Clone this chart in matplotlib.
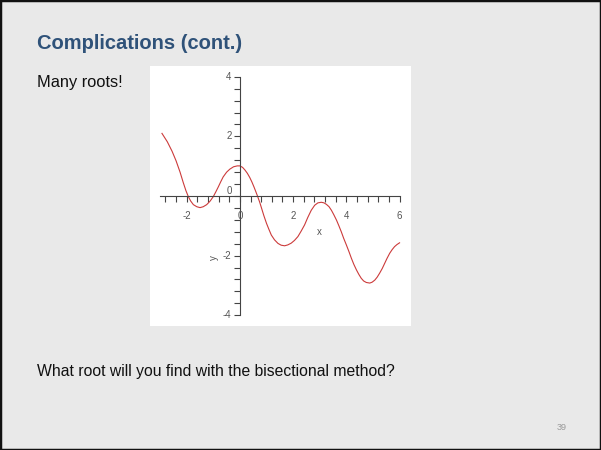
import matplotlib.pyplot as plt
import numpy as np
from matplotlib.patches import Rectangle

plt.rcParams['font.family'] = ['Liberation Sans', 'DejaVu Sans']

# points
x_vals = [-2.93, -2.73, -2.55, -2.40, -2.25, -2.13, -2.03, -1.94, -1.85, -1.75,
          -1.62, -1.50, -1.38, -1.25, -1.12, -1.00, -0.90, -0.81, -0.72, -0.63,
          -0.50, -0.38, -0.24, -0.10, 0.00, 0.10, 0.19, 0.28, 0.37, 0.45,
          0.53, 0.60, 0.66, 0.74, 0.81, 0.90, 1.00, 1.09, 1.18, 1.30,
          1.43, 1.55, 1.68, 1.80, 1.93, 2.05, 2.18, 2.30, 2.43, 2.55,
          2.68, 2.81, 2.93, 3.06, 3.16, 3.25, 3.35, 3.44, 3.53, 3.63,
          3.72, 3.81, 3.90, 4.00, 4.10, 4.19, 4.28, 4.38, 4.47, 4.56,
          4.65, 4.75, 4.88, 4.97, 5.07, 5.16, 5.25, 5.35, 5.44, 5.53,
          5.63, 5.72, 5.81, 5.90, 6.00]
y_vals = [2.10, 1.82, 1.50, 1.18, 0.80, 0.45, 0.18, -0.02, -0.17, -0.29,
          -0.36, -0.39, -0.36, -0.29, -0.17, -0.02, 0.15, 0.31, 0.48, 0.64,
          0.80, 0.90, 0.98, 1.01, 1.01, 0.96, 0.87, 0.76, 0.62, 0.47,
          0.30, 0.14, 0.00, -0.20, -0.40, -0.66, -0.92, -1.12, -1.31, -1.47,
          -1.59, -1.65, -1.67, -1.64, -1.58, -1.49, -1.36, -1.18, -0.97, -0.72,
          -0.48, -0.31, -0.23, -0.21, -0.23, -0.28, -0.36, -0.48, -0.63, -0.81,
          -1.00, -1.20, -1.42, -1.64, -1.87, -2.09, -2.29, -2.48, -2.63, -2.76,
          -2.85, -2.90, -2.92, -2.89, -2.82, -2.72, -2.59, -2.43, -2.26, -2.09,
          -1.92, -1.80, -1.70, -1.63, -1.57]

x_ticklabels = [-2, 0, 2, 4, 6]
y_ticklabels = [-4, -2, 2, 4]

W, H = 601, 450
fig = plt.figure(figsize=(W / 100, H / 100), dpi=100)
fig.patch.set_facecolor('#e9e9e9')

# slide frame
fig.patches.append(Rectangle((0, 0), 1, 1, transform=fig.transFigure,
                             fill=False, edgecolor='#111111', linewidth=2.5))

fig.text(37 / W, 1 - 49 / H, 'Complications (cont.)', fontsize=14.5,
         fontweight='bold', color='#2f5279', ha='left', va='baseline')
fig.text(37 / W, 1 - 87 / H, 'Many roots!', fontsize=11.8, color='#111111',
         ha='left', va='baseline')
fig.text(37 / W, 1 - 376 / H, 'What root will you find with the bisectional method?',
         fontsize=11.3, color='#111111', ha='left', va='baseline')
fig.text(562 / W, 1 - 427 / H, '39', fontsize=6.5, color='#999999',
         ha='center', va='center')

# plot panel (white box)
ax = fig.add_axes([150 / W, 1 - 326 / H, 261 / W, 260 / H])
ax.set_facecolor('white')
ax.set_xlim(-3.38, 6.43)
ax.set_ylim(-4.36, 4.36)

for s in ['top', 'right']:
    ax.spines[s].set_visible(False)
ax.spines['left'].set_position(('data', 0))
ax.spines['bottom'].set_position(('data', 0))
ax.spines['left'].set_bounds(-4, 4)
ax.spines['bottom'].set_bounds(-3, 6)
for s in ['left', 'bottom']:
    ax.spines[s].set_color('#444444')
    ax.spines[s].set_linewidth(0.8)

ax.set_xticks(np.arange(-7, 16) * 0.4)
ax.set_yticks(np.arange(-10, 11) * 0.4)
ax.set_xticklabels([])
ax.set_yticklabels([])
ax.tick_params(direction='out', length=4, width=0.8, color='#444444')

lab = dict(fontsize=7, color='#555555')
for v in x_ticklabels:
    ax.annotate(str(v), (v, 0), xytext=(0, -11), textcoords='offset points',
                ha='center', va='top', **lab)
for v in y_ticklabels + [0]:
    ax.annotate(str(v), (0, v), xytext=(-6, 0), textcoords='offset points',
                ha='right', va='center' if v else 'bottom', **lab)

ax.text(3.0, -1.2, 'x', ha='center', va='center', **lab)
ax.text(-0.98, -2.05, 'y', ha='center', va='center', rotation=90, **lab)

ax.plot(x_vals, y_vals, color='#cc3b3b', linewidth=0.8, clip_on=False)

fig.savefig('out.png', dpi=100, facecolor=fig.get_facecolor())
